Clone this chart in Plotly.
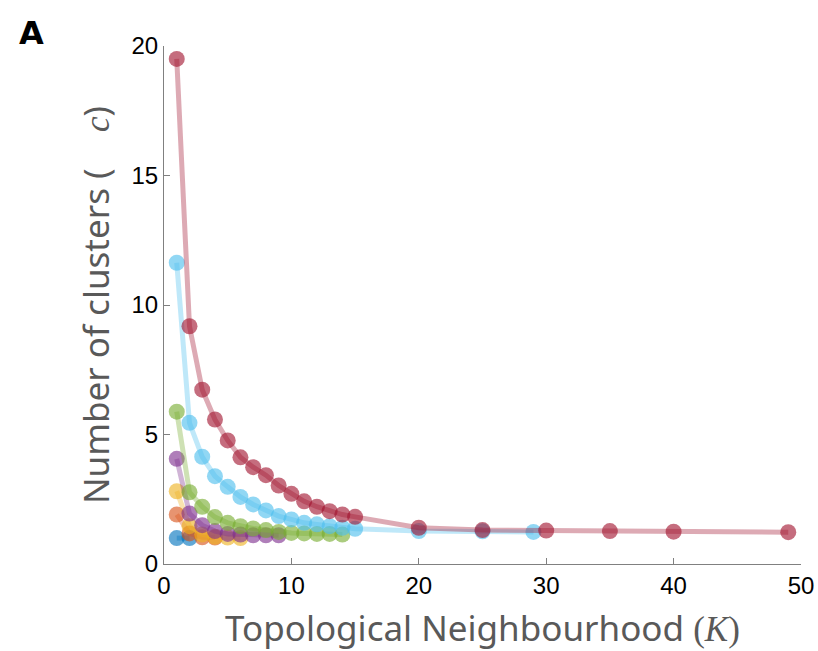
import plotly.graph_objects as go

# K values and cluster counts per series (MATLAB default colour order)
k_darkblue = [1, 2]
c_darkblue = [1.0, 1.0]

k_orange = [1, 2, 3, 4]
c_orange = [1.91, 1.18, 1.03, 1.02]

k_yellow = [1, 2, 3, 4, 5, 6]
c_yellow = [2.81, 1.46, 1.14, 1.05, 1.02, 1.0]

k_purple = [1, 2, 3, 4, 5, 6, 7, 8, 9]
c_purple = [4.06, 1.95, 1.50, 1.27, 1.16, 1.14, 1.11, 1.11, 1.11]

k_green = list(range(1, 15))
c_green = [5.88, 2.77, 2.21, 1.81, 1.59, 1.46, 1.37, 1.31, 1.24, 1.20, 1.18, 1.16, 1.16, 1.14]

k_lightblue = list(range(1, 16)) + [20, 25, 29]
c_lightblue = [11.63, 5.45, 4.14, 3.39, 2.98, 2.59, 2.30, 2.07, 1.85, 1.72, 1.59, 1.53, 1.46, 1.40, 1.36,
               1.27, 1.26, 1.24]

k_red = list(range(1, 16)) + [20, 25, 30, 35, 40, 49]
c_red = [19.5, 9.18, 6.73, 5.58, 4.77, 4.12, 3.74, 3.43, 3.03, 2.71, 2.42, 2.21, 2.04, 1.91, 1.82,
         1.40, 1.31, 1.29, 1.27, 1.25, 1.23]

x_ticks = [0, 10, 20, 30, 40, 50]
y_ticks = [0, 5, 10, 15, 20]

series = [
    (k_darkblue, c_darkblue, (0, 114, 189)),
    (k_orange, c_orange, (217, 83, 25)),
    (k_yellow, c_yellow, (237, 177, 32)),
    (k_purple, c_purple, (126, 47, 142)),
    (k_green, c_green, (119, 172, 48)),
    (k_lightblue, c_lightblue, (77, 190, 238)),
    (k_red, c_red, (162, 20, 47)),
]

fig = go.Figure()
for ks, cs, (r, g, b) in series:
    fig.add_trace(go.Scatter(
        x=ks, y=cs, mode="lines+markers",
        line=dict(color=f"rgba({r},{g},{b},0.36)", width=5),
        marker=dict(color=f"rgba({r},{g},{b},0.62)", size=16, line=dict(width=0)),
        showlegend=False, cliponaxis=False,
    ))

axis_common = dict(
    showgrid=False, zeroline=False, showline=True, linecolor="#808080", linewidth=1,
    ticks="inside", ticklen=6, tickcolor="#808080", automargin=False,
    tickfont=dict(family="Liberation Sans", size=24, color="#000000"),
)

title_font = dict(family="Noto Sans", size=35, color="#595959")

fig.update_layout(
    width=818, height=651,
    margin=dict(l=164, r=17, t=46, b=87),
    paper_bgcolor="white", plot_bgcolor="white",
    xaxis=dict(range=[0, 50], tickvals=x_ticks, **axis_common),
    yaxis=dict(range=[0, 20], tickvals=y_ticks, **axis_common),
    annotations=[
        dict(text="Topological Neighbourhood <span style='font-family:Liberation Serif'>(<i>K</i>)</span>",
             x=0.5, y=0, xref="paper", yref="paper", xanchor="center", yanchor="middle",
             yshift=-63, showarrow=False, font=title_font),
        dict(text="Number of clusters (    <span style='font-family:Liberation Serif'><i>c</i></span>)",
             x=0, y=0.5, xref="paper", yref="paper", xanchor="center", yanchor="middle",
             xshift=-69, textangle=-90, showarrow=False, font=title_font),
        dict(text="<b>A</b>", x=0, y=1, xref="paper", yref="paper",
             xanchor="left", yanchor="top", xshift=-147, yshift=34, showarrow=False,
             font=dict(family="DejaVu Sans", size=32, color="black")),
    ],
)

fig.write_html("out.html", config={"displayModeBar": False},
               post_script="document.body.style.margin='0px';document.body.style.overflow='hidden';")
